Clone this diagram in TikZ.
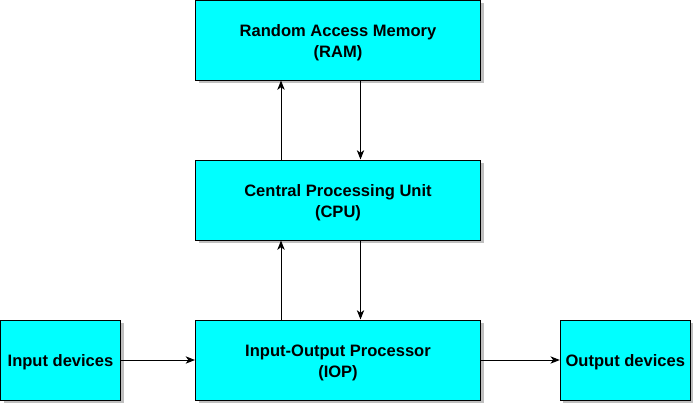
\documentclass[tikz,border=0pt]{standalone}
\usepackage{fontspec}
\setmainfont{Liberation Sans}
\usetikzlibrary{arrows.meta,shadows}
\definecolor{boxcyan}{RGB}{0,255,255}
\newcommand{\boxtext}[1]{\raisebox{-2pt}[\height][\depth]{\begin{tabular}{@{}c@{}}#1\end{tabular}}}
\begin{document}
\begin{tikzpicture}[x=0.75pt,y=-0.75pt,
  box/.style={draw=black,line width=0.75pt,fill=boxcyan,align=center,font=\bfseries\fontsize{12.4pt}{16pt}\selectfont,
    inner sep=0pt,drop shadow={shadow xshift=2.25pt,shadow yshift=-2.25pt,fill=black!25,opacity=1}},
  conn/.style={line width=0.75pt,-{Stealth[length=7pt,width=5.5pt,inset=2pt]}}]
\useasboundingbox (0,0) rectangle (693,404);
\node[box,minimum width=285*0.75pt,minimum height=80*0.75pt] (ram) at (338,40) {\boxtext{Random Access Memory\\(RAM)}};
\node[box,minimum width=285*0.75pt,minimum height=80*0.75pt] (cpu) at (338,200) {\boxtext{Central Processing Unit\\(CPU)}};
\node[box,minimum width=285*0.75pt,minimum height=80*0.75pt] (iop) at (338,360) {\boxtext{Input-Output Processor\\(IOP)}};
\node[box,minimum width=120*0.75pt,minimum height=80*0.75pt] (in) at (60.5,360) {\boxtext{Input devices}};
\node[box,minimum width=130*0.75pt,minimum height=80*0.75pt] (out) at (625.3,360) {\boxtext{Output devices}};
\draw[conn] (cpu.north -| 281,0) -- (ram.south -| 281,0);
\draw[conn] (ram.south -| 360.5,0) -- (cpu.north -| 360.5,0);
\draw[conn] (iop.north -| 281,0) -- (cpu.south -| 281,0);
\draw[conn] (cpu.south -| 360.5,0) -- (iop.north -| 360.5,0);
\draw[conn] (in.east) -- (iop.west);
\draw[conn] (iop.east) -- (out.west);
\end{tikzpicture}
\end{document}
